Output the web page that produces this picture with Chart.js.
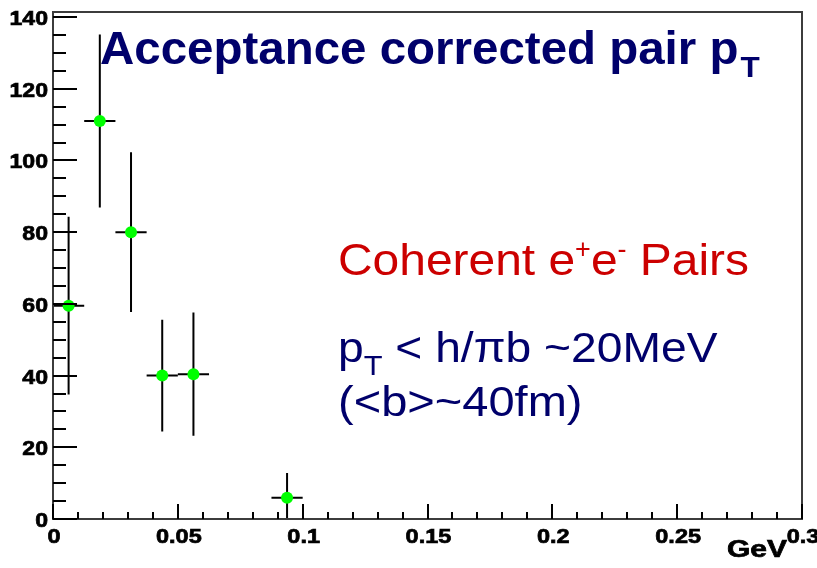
<!DOCTYPE html>
<html>
<head>
<meta charset="utf-8">
<script src="https://cdn.jsdelivr.net/npm/chart.js@4.4.0/dist/chart.umd.min.js"></script>
<style>
  html, body { margin: 0; padding: 0; background: #fff; }
  #plot { display: block; }
</style>
</head>
<body>
<canvas id="plot" width="817" height="568"></canvas>
<script>
// pair pT histogram (GeV), bin width 0.0125
const binCenters = [0.00625, 0.01875, 0.03125, 0.04375, 0.05625, 0.09375];
const counts = [59.5, 111.0, 80.0, 40.0, 40.4, 5.9];
const countErrors = [24.8, 24.1, 22.3, 15.6, 17.2, 6.9];
const binHalfWidth = 0.00625;

// axis labels
const xTicks = [0, 0.05, 0.1, 0.15, 0.2, 0.25, 0.3];
const xTickLabels = ['0', '0.05', '0.1', '0.15', '0.2', '0.25', '0.3'];
const yTicks = [0, 20, 40, 60, 80, 100, 120, 140];
const xMinorStep = 0.01;
const yMinorStep = 5;

const FONT = '"Liberation Sans", Arial, Helvetica, sans-serif';
const NAVY = '#00006b';
const RED = '#cc0000';

// fillText with a horizontal stretch; returns the drawn width
function stretchedText(ctx, txt, x, y, font, sx, align, heavy) {
  ctx.font = font;
  const w = ctx.measureText(txt).width * sx;
  let left = x;
  if (align === 'right') left = x - w;
  else if (align === 'center') left = x - w / 2;
  ctx.save();
  ctx.textAlign = 'left';
  ctx.textBaseline = 'alphabetic';
  ctx.translate(left, y);
  ctx.scale(sx, 1);
  ctx.fillText(txt, 0, 0);
  if (heavy) {
    ctx.strokeStyle = ctx.fillStyle;
    ctx.lineWidth = heavy;
    ctx.strokeText(txt, 0, 0);
  }
  ctx.restore();
  return w;
}

// error bars, drawn under the markers
const errorBars = {
  id: 'errorBars',
  beforeDatasetsDraw(chart) {
    const { ctx, chartArea, scales: { x, y } } = chart;
    ctx.save();
    ctx.beginPath();
    ctx.rect(chartArea.left, chartArea.top, chartArea.right - chartArea.left, chartArea.bottom - chartArea.top);
    ctx.clip();
    ctx.strokeStyle = '#000';
    ctx.lineWidth = 2;
    binCenters.forEach((c, i) => {
      const px = x.getPixelForValue(c);
      const py = y.getPixelForValue(counts[i]);
      ctx.beginPath();
      ctx.moveTo(x.getPixelForValue(c - binHalfWidth), py);
      ctx.lineTo(x.getPixelForValue(c + binHalfWidth), py);
      ctx.moveTo(px, y.getPixelForValue(counts[i] - countErrors[i]));
      ctx.lineTo(px, y.getPixelForValue(counts[i] + countErrors[i]));
      ctx.stroke();
    });
    ctx.restore();
  }
};

// frame, inward ticks and labels
const frameAxes = {
  id: 'frameAxes',
  afterDraw(chart) {
    const { ctx, chartArea: a, scales: { x, y } } = chart;
    ctx.save();
    ctx.strokeStyle = '#3c3c3c';
    ctx.lineWidth = 2;
    ctx.strokeRect(a.left, a.top, a.right - a.left, a.bottom - a.top);

    ctx.strokeStyle = '#000';
    ctx.lineWidth = 2;
    ctx.beginPath();
    for (let v = 0; v <= y.max + 1e-9; v += yMinorStep) {
      const py = Math.round(y.getPixelForValue(v));
      const len = v % 20 === 0 ? 24 : 13;
      ctx.moveTo(a.left, py);
      ctx.lineTo(a.left + len, py);
    }
    for (let i = 0; i <= 30; i++) {
      const v = i * xMinorStep;
      const px = Math.round(x.getPixelForValue(v));
      const len = i % 5 === 0 ? 15 : 7;
      ctx.moveTo(px, a.bottom);
      ctx.lineTo(px, a.bottom - len);
    }
    ctx.stroke();

    ctx.fillStyle = '#000';
    const tickFont = 'bold 21px ' + FONT;
    yTicks.forEach(v => {
      stretchedText(ctx, String(v), a.left - 5, y.getPixelForValue(v) + 8, tickFont, 1.1, 'right', 0.7);
    });
    xTicks.forEach((v, i) => {
      stretchedText(ctx, xTickLabels[i], x.getPixelForValue(v) + 1, a.bottom + 24, tickFont, 1.12, 'center', 0.7);
    });

    stretchedText(ctx, 'GeV', 787, 557, 'bold 24px ' + FONT, 1.25, 'right', 0.7);

    // title
    ctx.fillStyle = NAVY;
    const w = stretchedText(ctx, 'Acceptance corrected pair p', 100, 64, 'bold 47px ' + FONT, 1.01);
    stretchedText(ctx, 'T', 100 + w + 2, 77, 'bold 30px ' + FONT, 1.05);

    // annotations
    let cx = 338;
    const put = (txt, size, dy, sx) => {
      cx += stretchedText(ctx, txt, cx, dy, size + 'px ' + FONT, sx);
    };
    ctx.fillStyle = RED;
    put('Coherent e', 45, 275, 1.065);
    put('+', 27, 258, 1.0);
    put('e', 45, 275, 1.065);
    put('-', 27, 258, 1.0);
    put(' Pairs', 45, 275, 1.065);

    ctx.fillStyle = NAVY;
    cx = 338;
    put('p', 42, 362, 1.1);
    put('T', 28, 375, 1.1);
    put(' < h/\u03c0b ~20MeV', 42, 362, 1.1);
    cx = 338;
    put('(<b>~40fm)', 42, 416, 1.12);
    ctx.restore();
  }
};

new Chart(document.getElementById('plot'), {
  type: 'scatter',
  data: {
    datasets: [{
      data: binCenters.map((c, i) => ({ x: c, y: counts[i] })),
      pointStyle: 'circle',
      pointRadius: 6,
      pointBackgroundColor: '#00ff00',
      pointBorderWidth: 0,
      showLine: false
    }]
  },
  options: {
    responsive: false,
    animation: false,
    devicePixelRatio: 1,
    layout: { padding: { left: 53, right: 15, top: 12, bottom: 49 } },
    plugins: {
      legend: { display: false },
      tooltip: { enabled: false }
    },
    scales: {
      x: { type: 'linear', min: 0, max: 0.3, display: false },
      y: { type: 'linear', min: 0, max: 141.4, display: false }
    }
  },
  plugins: [errorBars, frameAxes]
});
</script>
</body>
</html>
